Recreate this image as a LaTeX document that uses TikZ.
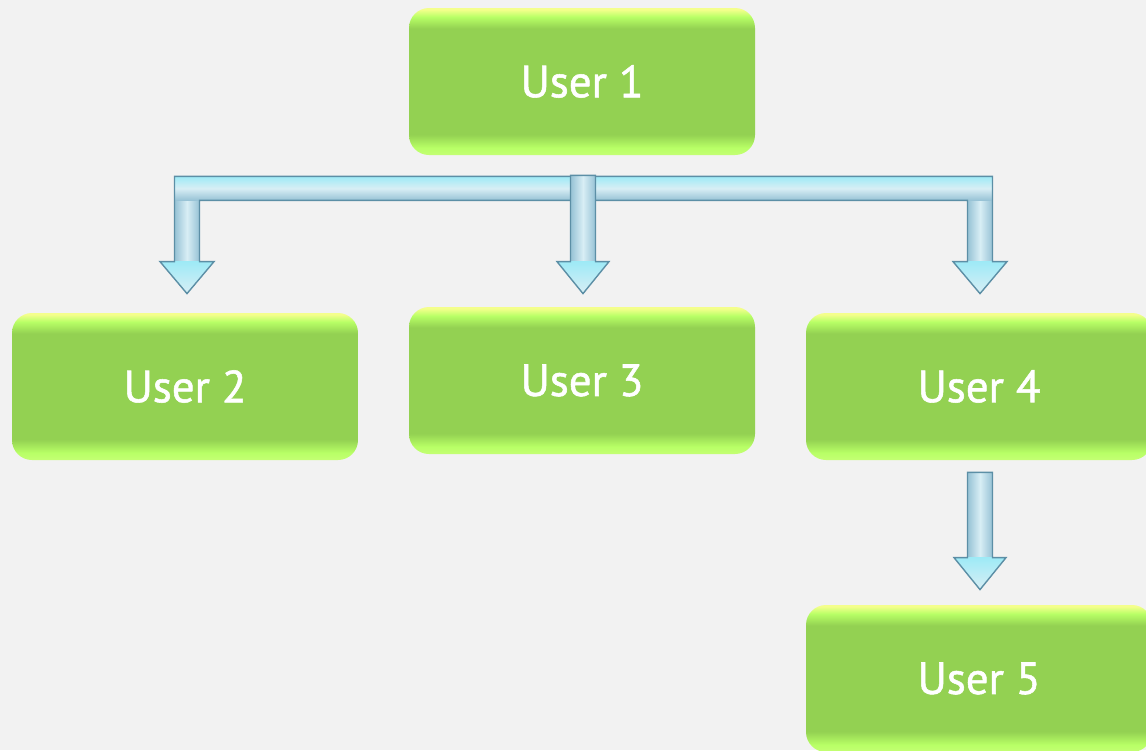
\documentclass[tikz,border=0pt]{standalone}
\usepackage{fontspec}
\newfontfamily\boxfont[FakeBold=1.2]{PT Sans}
\usetikzlibrary{calc}
\definecolor{bg}{HTML}{F2F2F2}
\definecolor{gmain}{HTML}{93D152}
\definecolor{glight}{HTML}{B8FF66}
\definecolor{gyel}{HTML}{F4FF8C}
\definecolor{gbot}{HTML}{C4FF74}
\definecolor{aedge}{HTML}{5C8FA6}
\definecolor{adark}{HTML}{96C2D5}
\definecolor{alight}{HTML}{D8EEF5}
\definecolor{acyan}{HTML}{9EEAF6}
\pgfdeclareverticalshading{boxshade}{100bp}{%
  color(0bp)=(gbot); color(25bp)=(gbot); color(27.5bp)=(glight); color(32bp)=(gmain);
  color(68bp)=(gmain); color(72bp)=(glight); color(74.5bp)=(gyel); color(100bp)=(gyel)}
\tikzset{
  ubox/.style={rounded corners=10pt, minimum width=173pt, minimum height=73.5pt,
    inner sep=0pt, shading=boxshade, text=white,
    font=\boxfont\fontsize{22.5}{27}\selectfont},
  fatline/.style={draw=aedge, line width=0.7pt, line join=miter},
  vshade/.style={left color=adark, right color=adark, middle color=alight},
  hshade/.style={top color=acyan, bottom color=adark, middle color=alight}
}
% vertical fat arrow: #1 top centre, #2 tip
\newcommand\fatdown[2]{%
  \begin{scope}
  \path[clip] let \p1=(#1), \p2=(#2) in
    (\x1-6.25pt,\y1) -- (\x1+6.25pt,\y1) -- (\x1+6.25pt,\y2+16pt) -- (\x1+13pt,\y2+16pt)
    -- (\x1,\y2) -- (\x1-13pt,\y2+16pt) -- (\x1-6.25pt,\y2+16pt) -- cycle;
  \fill[vshade] let \p1=(#1), \p2=(#2) in (\x1-6.25pt,\y1) rectangle (\x1+6.25pt,\y2);
  \fill[top color=acyan, bottom color=alight] let \p1=(#1), \p2=(#2) in
    (\x1-13pt,\y2+16pt) rectangle (\x1+13pt,\y2);
  \end{scope}
  \draw[fatline] let \p1=(#1), \p2=(#2) in
    (\x1-6.25pt,\y1) -- (\x1+6.25pt,\y1) -- (\x1+6.25pt,\y2+16pt) -- (\x1+13pt,\y2+16pt)
    -- (\x1,\y2) -- (\x1-13pt,\y2+16pt) -- (\x1-6.25pt,\y2+16pt) -- cycle;}
\begin{document}
\begin{tikzpicture}[x=0.5pt,y=-0.5pt]
\fill[bg] (0,0) rectangle (1146,750);
\useasboundingbox (0,0) rectangle (1146,750);
\node[ubox] (u1) at (582,81.5) {User 1};
\node[ubox] (u2) at (185,386.5) {User 2};
\node[ubox] (u3) at (582,380.5) {User 3};
\node[ubox] (u4) at (979,386.5) {User 4};
\node[ubox] (u5) at (979,678.5) {User 5};
% T-shaped connector from User 1 to User 2 and User 4
\coordinate (bc) at ([shift={(0,33)}]u1.south);
\coordinate (lt) at ([shift={(2,-19)}]u2.north);
\coordinate (rt) at ([shift={(1,-19)}]u4.north);
\def\Tpath{($(lt|-bc)+(-12.5,-12)$) -- ($(rt|-bc)+(12.5,-12)$) -- ($(rt)+(12.5,-32)$)
  -- ($(rt)+(27,-32)$) -- (rt) -- ($(rt)+(-27,-32)$) -- ($(rt)+(-12.5,-32)$)
  -- ($(rt|-bc)+(-12.5,12)$) -- ($(lt|-bc)+(12.5,12)$) -- ($(lt)+(12.5,-32)$)
  -- ($(lt)+(27,-32)$) -- (lt) -- ($(lt)+(-27,-32)$) -- ($(lt)+(-12.5,-32)$) -- cycle}
\begin{scope}
  \clip \Tpath;
  \fill[vshade] ($(lt|-bc)+(-12.5,0)$) rectangle ($(lt)+(12.5,0)$);
  \fill[vshade] ($(rt|-bc)+(-12.5,0)$) rectangle ($(rt)+(12.5,0)$);
  \fill[top color=acyan, bottom color=alight] ($(lt)+(-27,-32)$) rectangle ($(lt)+(27,0)$);
  \fill[top color=acyan, bottom color=alight] ($(rt)+(-27,-32)$) rectangle ($(rt)+(27,0)$);
  \fill[hshade] ($(lt|-bc)+(-12.5,-12)$) rectangle ($(rt|-bc)+(12.5,12)$);
\end{scope}
\draw[fatline] \Tpath;
% middle arrow to User 3
\fatdown{[shift={(1,20)}]u1.south}{[shift={(1,-13)}]u3.north}
% User 4 to User 5
\fatdown{[shift={(1,12)}]u4.south}{[shift={(1,-15)}]u5.north}
\end{tikzpicture}
\end{document}
